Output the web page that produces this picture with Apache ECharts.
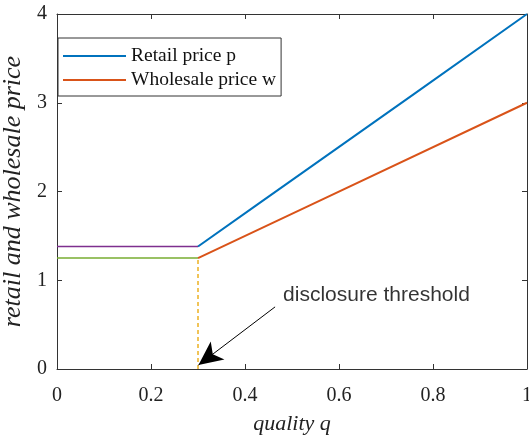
<!DOCTYPE html>
<html>
<head>
<meta charset="utf-8">
<script src="https://cdn.jsdelivr.net/npm/echarts@6/dist/echarts.min.js"></script>
<style>
html, body { margin: 0; padding: 0; background: #fff; }
#chart { width: 529px; height: 439px; }
</style>
</head>
<body>
<div id="chart"></div>
<script>
var retailPrice = [[0.3, 1.38], [0.42, 1.83], [0.76, 3.10], [1, 4]];
var wholesalePrice = [[0.3, 1.25], [0.53, 1.825], [1, 3.0]];
var retailFlat = [[0, 1.38], [0.3, 1.38]];
var wholesaleFlat = [[0, 1.25], [0.3, 1.25]];
var thresholdLine = [[0.3, 0], [0.3, 1.25]];
var arrowFrom = [0.464, 0.70];
var arrowTo = [0.301, 0.045];
var noteAt = [0.481, 0.836];
var noteText = 'disclosure threshold';

var serif = 'Liberation Serif';
var axisColor = '#333';

var chart = echarts.init(document.getElementById('chart'));

function boxAxis(pos, min, max, interval) {
    return {
        type: 'value', position: pos, min: min, max: max, interval: interval,
        axisLine: { show: true, onZero: false, lineStyle: { color: axisColor, width: 1 } },
        axisTick: { show: true, inside: true, length: 5, lineStyle: { color: axisColor } },
        axisLabel: { show: false },
        splitLine: { show: false }
    };
}

chart.setOption({
    animation: false,
    backgroundColor: '#fff',
    grid: { left: 57, right: 2, top: 14, bottom: 70, containLabel: false, outerBoundsMode: 'none' },
    legend: {
        left: 58, top: 38,
        orient: 'vertical',
        data: ['Retail price p', 'Wholesale price w'],
        icon: 'rect',
        itemWidth: 63, itemHeight: 2, itemGap: 4,
        padding: [8, 5, 6, 5],
        borderColor: '#333', borderWidth: 1,
        backgroundColor: '#fff',
        textStyle: { fontFamily: serif, fontSize: 19.5, color: '#111' }
    },
    xAxis: [{
        type: 'value', min: 0, max: 1, interval: 0.2,
        name: 'quality q', nameLocation: 'middle', nameGap: 44,
        nameTextStyle: { fontFamily: serif, fontStyle: 'italic', fontSize: 22, color: '#222' },
        axisLine: { show: true, onZero: false, lineStyle: { color: axisColor, width: 1 } },
        axisTick: { show: true, inside: true, length: 5, lineStyle: { color: axisColor } },
        axisLabel: { margin: 17, fontFamily: serif, fontSize: 20, color: '#222' },
        splitLine: { show: false }
    }, boxAxis('top', 0, 1, 0.2)],
    yAxis: [{
        type: 'value', min: 0, max: 4, interval: 1,
        name: 'retail and wholesale price', nameLocation: 'middle', nameGap: 26,
        nameTextStyle: { fontFamily: serif, fontStyle: 'italic', fontSize: 26, color: '#222' },
        axisLine: { show: true, onZero: false, lineStyle: { color: axisColor, width: 1 } },
        axisTick: { show: true, inside: true, length: 5, lineStyle: { color: axisColor } },
        axisLabel: { margin: 10, fontFamily: serif, fontSize: 20, color: '#222' },
        splitLine: { show: false }
    }, boxAxis('right', 0, 4, 1)],
    series: [
        {
            name: 'Retail price p', type: 'line', data: retailPrice, symbol: 'none',
            lineStyle: { color: '#0072BD', width: 2 }, itemStyle: { color: '#0072BD' }
        },
        {
            name: 'Wholesale price w', type: 'line', data: wholesalePrice, symbol: 'none',
            lineStyle: { color: '#D95319', width: 2 }, itemStyle: { color: '#D95319' }
        },
        {
            name: 'retailFlat', type: 'line', data: retailFlat, symbol: 'none',
            lineStyle: { color: '#7E2F8E', width: 1.5 }
        },
        {
            name: 'wholesaleFlat', type: 'line', data: wholesaleFlat, symbol: 'none',
            lineStyle: { color: '#77AC30', width: 1.5 }
        },
        {
            name: 'threshold', type: 'line', data: thresholdLine, symbol: 'none',
            lineStyle: { color: '#EDB120', width: 1.5, type: [4, 3] },
            markLine: {
                silent: true,
                symbol: ['none', 'arrow'],
                symbolSize: [17, 24],
                lineStyle: { color: '#000', width: 1, type: 'solid' },
                label: { show: false },
                data: [[{ coord: arrowFrom }, { coord: arrowTo }]]
            }
        },
        {
            name: 'note', type: 'scatter', data: [noteAt], symbolSize: 0,
            label: {
                show: true, position: 'right', distance: 0,
                formatter: noteText,
                fontFamily: 'Liberation Sans', fontSize: 21, color: '#000'
            }
        }
    ]
});
</script>
</body>
</html>
